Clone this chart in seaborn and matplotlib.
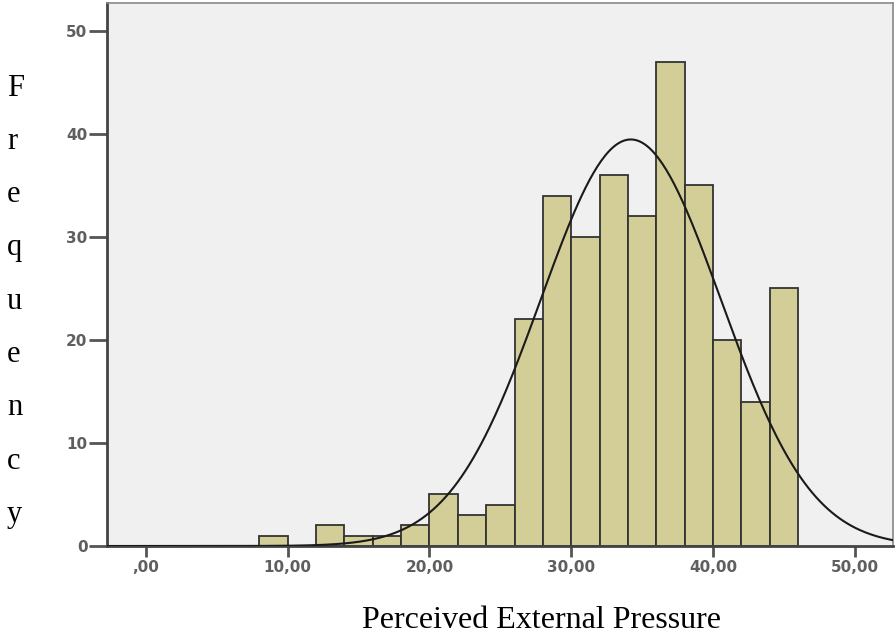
import numpy as np
import matplotlib
matplotlib.use("Agg")
import matplotlib.pyplot as plt
import seaborn as sns

# histogram (bin width 2)
bin_edges = list(range(8, 48, 2))
counts = [1, 0, 2, 1, 1, 2, 5, 3, 4, 22, 34, 30, 36, 32, 47, 35, 20, 14, 25]
bin_mids = [(a + b) / 2 for a, b in zip(bin_edges[:-1], bin_edges[1:])]

# normal curve parameters
mean_val = 34.2
sd_val = 6.35

x_ticks = [0, 10, 20, 30, 40, 50]
x_ticklabels = [",00", "10,00", "20,00", "30,00", "40,00", "50,00"]
y_ticks = [0, 10, 20, 30, 40, 50]
ylabel_letters = list("Frequency")
xlabel_text = "Perceived External Pressure"

sns.set_style("ticks")
plt.rcParams["font.family"] = ["DejaVu Sans"]

fig = plt.figure(figsize=(8.96, 6.34), dpi=100)
ax = fig.add_axes([0.1194, 0.1388, 0.8773, 0.8565])
ax.set_facecolor("#f0f0f0")

sns.histplot(x=bin_mids, weights=counts, bins=bin_edges, ax=ax,
             color="#d3ce97", edgecolor="#333333", linewidth=1.3, alpha=1,
             zorder=2)

xmin, xmax = -2.75, 52.7
n = sum(counts)
width = bin_edges[1] - bin_edges[0]
xs = np.linspace(xmin, xmax, 400)
ys = n * width / (sd_val * np.sqrt(2 * np.pi)) * np.exp(-0.5 * ((xs - mean_val) / sd_val) ** 2)
sns.lineplot(x=xs, y=ys, ax=ax, color="#1a1a1a", linewidth=1.5, zorder=3)

ax.set_xlim(xmin, xmax)
ax.set_ylim(0, 52.7)
ax.set_xticks(x_ticks)
ax.set_xticklabels(x_ticklabels)
ax.set_yticks(y_ticks)
ax.tick_params(bottom=True, left=True, top=False, right=False)
ax.tick_params(axis="x", direction="out", length=8, width=2, pad=2)
ax.tick_params(axis="y", direction="out", length=13, width=2, pad=1)
ax.tick_params(axis="both", color="#555555", labelcolor="#5f5f5f", labelsize=11)
for lab in ax.get_xticklabels() + ax.get_yticklabels():
    lab.set_fontweight("bold")
ax.set_xlabel("")
ax.set_ylabel("")

for side in ["left", "bottom"]:
    ax.spines[side].set_color("#444444")
    ax.spines[side].set_linewidth(2)
for side in ["top", "right"]:
    ax.spines[side].set_visible(True)
    ax.spines[side].set_color("#888888")
    ax.spines[side].set_linewidth(1.2)

# stacked y label letters
for i, ch in enumerate(ylabel_letters):
    fig.text(7 / 896, 1 - (88 + i * 53.3) / 634, ch, family="Liberation Serif",
             fontsize=22, ha="left", va="center", color="black")

fig.text(541 / 896, 1 - 621 / 634, xlabel_text, family="Liberation Serif",
         fontsize=23, ha="center", va="center", color="black")

fig.savefig("out.png", dpi=100)
